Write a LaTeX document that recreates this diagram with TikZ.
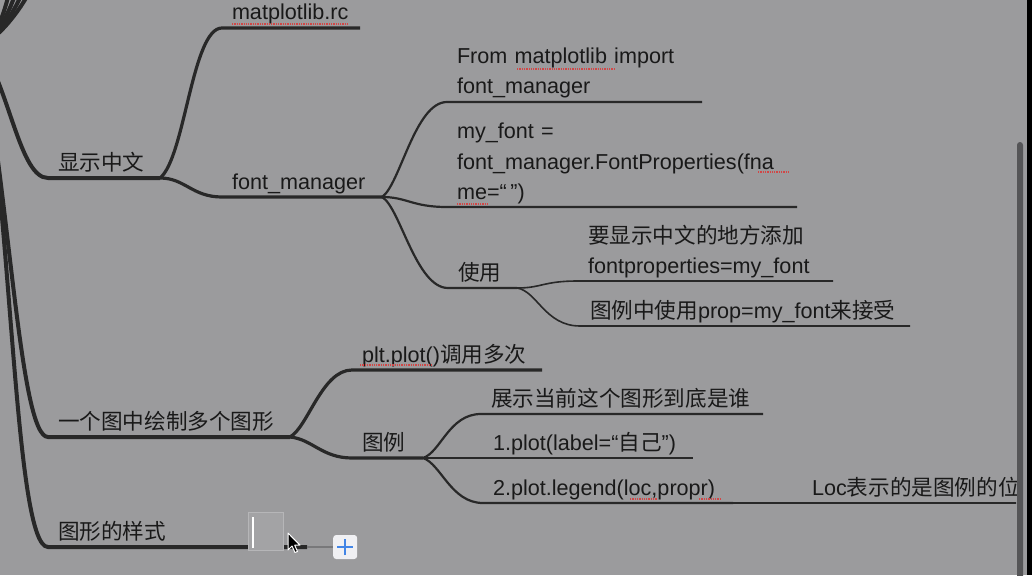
\documentclass[tikz,border=0pt]{standalone}
\usepackage{fontspec}
\setmainfont{Liberation Sans}
\newfontfamily\cjk{Noto Sans CJK SC}
\definecolor{PageGray}{RGB}{155,155,157}
\definecolor{BranchInk}{RGB}{40,40,40}
\definecolor{TopicInk}{RGB}{25,25,25}
\definecolor{SpellRed}{RGB}{210,70,70}
\definecolor{ScrollGray}{RGB}{85,85,87}
\definecolor{StubGray}{RGB}{120,120,122}
\definecolor{BoxEdge}{RGB}{182,182,184}
\definecolor{PlusFace}{RGB}{240,240,243}
\definecolor{PlusBlue}{RGB}{66,133,230}
\newcommand\mmstrut{\rule[-6pt]{0pt}{6pt}}
\tikzset{
  topic/.style={anchor=south west,inner xsep=10pt,inner ysep=2pt,outer sep=0pt,
    align=left,text=TopicInk,font=\fontsize{21.6}{30}\selectfont,
    execute at end node=\mmstrut},
  lvlone/.style={draw=BranchInk,line width=4pt},
  lvltwo/.style={draw=BranchInk,line width=3.2pt},
  lvlthree/.style={draw=BranchInk,line width=2.2pt},
  lvlfour/.style={draw=BranchInk,line width=1.6pt},
  lvlfive/.style={draw=BranchInk,line width=1.1pt},
  spell/.style={draw=SpellRed,line width=1.3pt,dash pattern=on 1.3pt off 1pt}
}
\begin{document}
\begin{tikzpicture}[x=1pt,y=-1pt]
  \useasboundingbox (0,0) rectangle (1032,575);
  \fill[PageGray] (0,0) rectangle (1032,575);
  \begin{scope}
  \clip (0,0) rectangle (1016,575);
  \coordinate (root) at (-20,45);
  % first level topics
  \node[topic,text width=92pt] (xianshi) at (48,178) {{\cjk 显示中文}};
  \node[topic,text width=222pt] (yige) at (48,437) {{\cjk 一个图中绘制多个图形}};
  \node[topic,text width=239pt] (tuxing) at (48,547) {{\cjk 图形的样式}};
  % second level topics
  \node[topic,text width=118pt] (rc) at (222,28) {matplotlib.rc};
  \node[topic,text width=140pt] (fm) at (222,197) {font\_manager};
  \node[topic,text width=170pt] (pltplot) at (352,370) {plt.plot(){\cjk 调用多次}};
  \node[topic,text width=51pt] (tuli) at (352,458) {{\cjk 图例}};
  % third level topics
  \node[topic,text width=235pt] (fromimp) at (447,102) {From matplotlib import\\font\_manager};
  \node[topic,text width=330pt] (myfont) at (447,207)
    {my\_font =\\font\_manager.FontProperties(fna\\me=“\,”)};
  \node[topic,text width=49pt] (shiyong) at (448,288) {{\cjk 使用}};
  \node[topic,text width=262pt] (zhanshi) at (481,414) {{\cjk 展示当前这个图形到底是谁}};
  \node[topic,text width=190pt] (plotlabel) at (483,458) {1.plot(label=“{\cjk 自己}”)};
  \node[topic,text width=230pt] (legend) at (483,503) {2.plot.legend(loc,propr)};
  % fourth level topics
  \node[topic,text width=235pt] (yaoxian) at (578,281)
    {{\cjk 要显示中文的地方添加}\\fontproperties=my\_font};
  \node[topic,text width=310pt] (legendprop) at (580,326)
    {{\cjk 图例中使用}prop=my\_font{\cjk 来接受}};
  \node[topic,text width=300pt] (loc) at (802,503) {Loc{\cjk 表示的是图例的位置}};
  % branches from the root
  \foreach \ex in {14,22,30,38}
    \draw[lvlone] (root) .. controls +(20,-5) and +(-5,25) .. (\ex,-30);
  \draw[lvlone] (root) .. controls (10,90) and (20,178) .. (xianshi.south west) -- (xianshi.south east);
  \draw[lvlone] (root) .. controls (10,200) and (20,437) .. (yige.south west) -- (yige.south east);
  \draw[lvlone] (root) .. controls (12,200) and (14,547) .. (tuxing.south west) -- (tuxing.south east);
  % second level branches
  \draw[lvltwo] (xianshi.south east) .. controls +(25,-20) and +(-30,0) .. (rc.south west) -- (rc.south east);
  \draw[lvltwo] (xianshi.south east) .. controls +(25,0) and +(-30,0) .. (fm.south west) -- (fm.south east);
  \draw[lvltwo] (yige.south east) .. controls +(18,-10) and +(-30,0) .. (pltplot.south west) -- (pltplot.south east);
  \draw[lvltwo] (yige.south east) .. controls +(22,2) and +(-30,0) .. (tuli.south west) -- (tuli.south east);
  % third level branches
  \draw[lvlthree] (fm.south east) .. controls +(18,-12) and +(-32,0) .. (fromimp.south west) -- (fromimp.south east);
  \draw[lvlthree] (fm.south east) .. controls +(25,0) and +(-35,0) .. (myfont.south west) -- (myfont.south east);
  \draw[lvlthree] (fm.south east) .. controls +(18,10) and +(-32,0) .. (shiyong.south west) -- (shiyong.south east);
  \draw[lvlthree] (tuli.south east) .. controls +(18,-6) and +(-32,0) .. (zhanshi.south west) -- (zhanshi.south east);
  \draw[lvlthree] (tuli.south east) -- (plotlabel.south west) -- (plotlabel.south east);
  \draw[lvlthree] (tuli.south east) .. controls +(18,6) and +(-32,0) .. (legend.south west) -- (legend.south east);
  % fourth level branches
  \draw[lvlfour] (shiyong.south east) .. controls +(25,0) and +(-35,0) .. (yaoxian.south west) -- (yaoxian.south east);
  \draw[lvlfour] (shiyong.south east) .. controls +(20,3) and +(-35,0) .. (legendprop.south west) -- (legendprop.south east);
  \draw[lvlfive] (legend.south east) -- (loc.south west) -- (loc.south east);
  % spell check marks
  \draw[spell] (232,24) -- (348,24);
  \draw[spell] (517,69) -- (615,69);
  \draw[spell] (758,172) -- (788,172);
  \draw[spell] (457,204) -- (489,204);
  \draw[spell] (360,365) -- (432,365);
  \draw[spell] (630,499) -- (657,499);
  \draw[spell] (699,499) -- (720,499);
  \end{scope}
  % new topic being typed
  \node[draw=BoxEdge,fill=PageGray!92!white,line width=0.8pt,inner sep=0pt,
        minimum width=35pt,minimum height=38pt,anchor=north west] (editbox) at (248,512) {};
  \draw[white,line width=1.2pt] ([xshift=5pt,yshift=-5pt]editbox.north west)
    -- ([xshift=5pt,yshift=3pt]editbox.south west);
  \node[fill=PlusFace,rounded corners=3pt,minimum size=24pt,inner sep=0pt,anchor=west]
    (plusbtn) at (333,547) {};
  \draw[StubGray,line width=2pt] (tuxing.south east) -- (plusbtn.west);
  \draw[PlusBlue,line width=1.8pt] ([xshift=-8pt]plusbtn.center) -- ([xshift=8pt]plusbtn.center);
  \draw[PlusBlue,line width=1.8pt] ([yshift=-8pt]plusbtn.center) -- ([yshift=8pt]plusbtn.center);
  % mouse pointer
  \draw[white,fill=black,line width=1pt,line join=round] (288,533) -- ++(0,17) -- ++(4,-4)
    -- ++(3,6.5) -- ++(2.5,-1) -- ++(-2.8,-6.3) -- ++(5.3,0) -- cycle;
  % scroll bar and window edge
  \fill[ScrollGray,rounded corners=3pt] (1017,142) rectangle (1023,580);
  \fill[black] (1027,0) rectangle (1032,575);
\end{tikzpicture}
\end{document}
